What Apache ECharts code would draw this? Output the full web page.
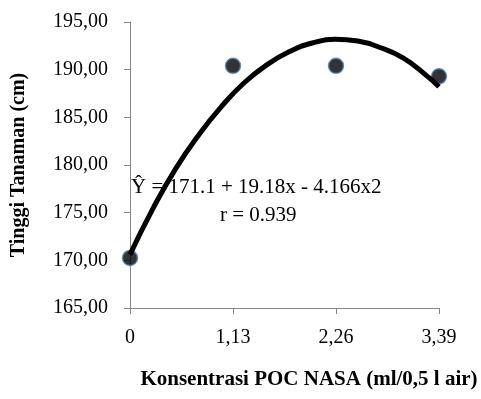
<!DOCTYPE html>
<html>
<head>
<meta charset="utf-8">
<script src="https://cdn.jsdelivr.net/npm/echarts@6/dist/echarts.min.js"></script>
<style>
html,body{margin:0;padding:0;background:#fff;}
#chart{width:481px;height:399px;}
</style>
</head>
<body>
<div id="chart"></div>
<script>
// Observed data points (x = konsentrasi, y = tinggi tanaman)
const xValues = [0, 1.13, 2.26, 3.39];
const yValues = [170.25, 190.4, 190.4, 189.3];
// Trend curve
const curveX = [0, 0.25, 0.5, 0.75, 1, 1.25, 1.5, 1.75, 2, 2.25, 2.5, 2.75, 3, 3.25, 3.39];
const curveY = [170.6, 175.4, 179.6, 183.1, 186.1, 188.6, 190.5, 191.9, 192.8, 193.2, 193.0, 192.3, 191.2, 189.4, 188.2];
// Tick labels
const xTickLabels = {0: '0', 1.13: '1,13', 2.26: '2,26', 3.39: '3,39'};
const yTickLabels = {165: '165,00', 170: '170,00', 175: '175,00', 180: '180,00', 185: '185,00', 190: '190,00', 195: '195,00'};
const equationText = 'Ŷ = 171.1 + 19.18x - 4.166x2';
const rText = 'r = 0.939';
const xTitle = 'Konsentrasi POC NASA (ml/0,5 l air)';
const yTitle = 'Tinggi Tanaman (cm)';

const FONT = '"Liberation Serif", "Times New Roman", serif';
const AXIS_COLOR = '#868686';

const chart = echarts.init(document.getElementById('chart'), null, {renderer: 'canvas'});
chart.setOption({
  animation: false,
  backgroundColor: '#fff',
  grid: {left: 130, right: 42, top: 22, bottom: 91, containLabel: false},
  xAxis: {
    type: 'value', min: 0, max: 3.39, interval: 1.13,
    splitLine: {show: false},
    axisLine: {lineStyle: {color: AXIS_COLOR, width: 1}},
    axisTick: {show: true, inside: false, length: 6, lineStyle: {color: AXIS_COLOR}},
    axisLabel: {
      margin: 20, color: '#000', fontFamily: FONT, fontSize: 20,
      formatter: v => { const k = Math.round(v * 100) / 100; return xTickLabels[k] !== undefined ? xTickLabels[k] : ''; }
    },
    name: xTitle, nameLocation: 'middle', nameGap: 61,
    nameTextStyle: {color: '#000', fontFamily: FONT, fontSize: 21, fontWeight: 'bold', padding: [0, 0, 0, 49]}
  },
  yAxis: {
    type: 'value', min: 165, max: 195, interval: 5,
    splitLine: {show: false},
    axisLine: {show: true, lineStyle: {color: AXIS_COLOR, width: 1}},
    axisTick: {show: true, inside: false, length: 6, lineStyle: {color: AXIS_COLOR}},
    axisLabel: {
      margin: 22, color: '#000', fontFamily: FONT, fontSize: 20,
      formatter: v => yTickLabels[Math.round(v)] || ''
    },
    name: yTitle, nameLocation: 'middle', nameGap: 101, nameRotate: 90,
    nameTextStyle: {color: '#000', fontFamily: FONT, fontSize: 20, fontWeight: 'bold'}
  },
  series: [
    {
      type: 'scatter',
      data: xValues.map((x, i) => [x, yValues[i]]),
      symbol: 'circle', symbolSize: 15,
      itemStyle: {color: '#000', borderColor: '#4a7ebb', borderWidth: 1.5},
      z: 2
    },
    {
      type: 'line',
      data: curveX.map((x, i) => [x, curveY[i]]),
      smooth: true, showSymbol: false, symbol: 'none',
      lineStyle: {color: '#000', width: 5},
      z: 3
    }
  ],
  graphic: [
    {type: 'text', left: 131, top: 177, z: 10,
     style: {text: equationText, fill: '#000', font: '21px ' + FONT}},
    {type: 'text', left: 220, top: 205, z: 10,
     style: {text: rText, fill: '#000', font: '21px ' + FONT}}
  ]
});
</script>
</body>
</html>
